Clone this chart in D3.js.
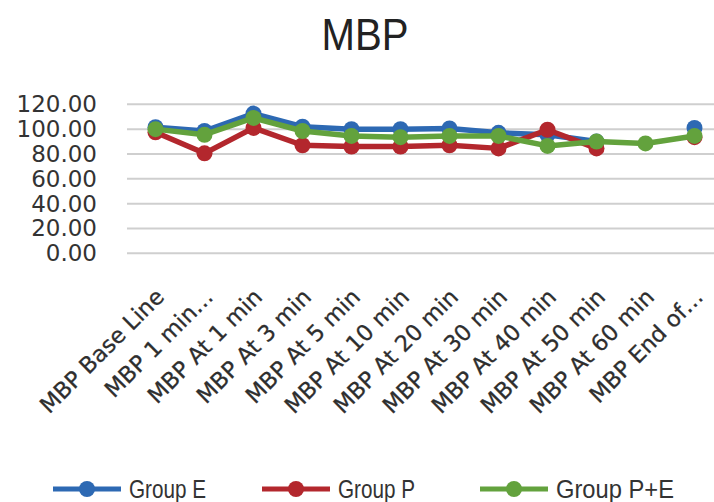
<!DOCTYPE html>
<html>
<head>
<meta charset="utf-8">
<script src="https://cdn.jsdelivr.net/npm/d3@7"></script>
<style>
  html, body { margin: 0; padding: 0; background: #ffffff; }
  svg { display: block; }
</style>
</head>
<body>
<svg id="chart" width="714" height="502"></svg>
<script>
// Time points on the x axis
const categories = [
  "MBP Base Line", "MBP 1 min…", "MBP At 1 min", "MBP At 3 min",
  "MBP At 5 min", "MBP At 10 min", "MBP At 20 min", "MBP At 30 min",
  "MBP At 40 min", "MBP At 50 min", "MBP At 60 min", "MBP End of…"
];

// Mean blood pressure per group (null = no reading)
const groupE  = [101.5, 98.5, 112.5, 102.0, 100.0, 100.0, 100.5, 97.0, 95.5, 90.0, null, 101.0];
const groupP  = [97.5, 80.5, 101.0, 87.0, 86.0, 86.0, 87.0, 84.5, 99.5, 84.5, null, 93.5];
const groupPE = [100.0, 95.5, 109.0, 98.5, 94.5, 93.5, 94.5, 94.5, 86.5, 90.0, 88.5, 94.5];

const yTicks = [0, 20, 40, 60, 80, 100, 120];

const seriesNames  = ["Group E", "Group P", "Group P+E"];
const seriesColors = ["#2d69b3", "#b3272d", "#63a23d"];
const seriesValues = [groupE, groupP, groupPE];

const svg = d3.select("#chart");

// Scales
const x = d3.scaleBand().domain(categories).range([131, 719]);
const xc = d => x(d) + x.bandwidth() / 2;
const y = d3.scaleLinear().domain([0, 120]).range([253.3, 104.3]);

// Title
svg.append("text")
  .attr("x", 365).attr("y", 50)
  .attr("text-anchor", "middle")
  .attr("font-family", "Liberation Sans, Arial, sans-serif")
  .attr("font-size", 44)
  .attr("textLength", 87)
  .attr("lengthAdjust", "spacingAndGlyphs")
  .attr("fill", "#222")
  .text("MBP");

// Horizontal gridlines
svg.append("g")
  .selectAll("line")
  .data(yTicks)
  .join("line")
  .attr("x1", 127).attr("x2", 714)
  .attr("y1", d => y(d)).attr("y2", d => y(d))
  .attr("stroke", "#cfcfcf")
  .attr("stroke-width", 2);

// Y axis labels
const yAxis = d3.axisLeft(y)
  .tickValues(yTicks)
  .tickFormat(d3.format(".2f"))
  .tickSize(0)
  .tickPadding(0);
svg.append("g")
  .attr("transform", "translate(97,0)")
  .call(yAxis)
  .call(g => g.select(".domain").remove())
  .call(g => g.selectAll("text")
    .attr("font-family", "DejaVu Sans, Verdana, sans-serif")
    .attr("font-size", 23)
    .attr("fill", "#333"));

// X axis labels, rotated
const xAxis = d3.axisBottom(x).tickSize(0).tickPadding(0);
svg.append("g")
  .attr("transform", "translate(0,253.3)")
  .call(xAxis)
  .call(g => g.select(".domain").remove())
  .call(g => g.selectAll("text")
    .attr("font-family", "DejaVu Sans, Verdana, sans-serif")
    .attr("font-size", 22.5)
    .attr("fill", "#2e2e2e")
    .attr("stroke", "#2e2e2e")
    .attr("stroke-width", 0.3)
    .attr("text-anchor", "end")
    .attr("dy", 0)
    .attr("transform", "translate(10,45) rotate(-45)"));

// Lines and markers, drawn in series order
const line = d3.line()
  .defined(d => d.v !== null)
  .x(d => xc(d.c))
  .y(d => y(d.v));

seriesValues.forEach((vals, i) => {
  const pts = categories.map((c, j) => ({ c, v: vals[j] }));
  const g = svg.append("g");
  g.append("path")
    .datum(pts)
    .attr("d", line)
    .attr("fill", "none")
    .attr("stroke", seriesColors[i])
    .attr("stroke-width", 5.5)
    .attr("stroke-linejoin", "round");
  g.selectAll("circle")
    .data(pts.filter(d => d.v !== null))
    .join("circle")
    .attr("cx", d => xc(d.c))
    .attr("cy", d => y(d.v))
    .attr("r", 8)
    .attr("fill", seriesColors[i]);
});

// Legend
const legendX = [53, 262, 480];
const legendTextLen = [77, 77, 118];
const legend = svg.append("g");
seriesNames.forEach((name, i) => {
  const lx = legendX[i];
  legend.append("line")
    .attr("x1", lx).attr("x2", lx + 68)
    .attr("y1", 489).attr("y2", 489)
    .attr("stroke", seriesColors[i])
    .attr("stroke-width", 5);
  legend.append("circle")
    .attr("cx", lx + 34).attr("cy", 489)
    .attr("r", 8)
    .attr("fill", seriesColors[i]);
  legend.append("text")
    .attr("x", lx + 76).attr("y", 498)
    .attr("font-family", "Liberation Sans, Arial, sans-serif")
    .attr("font-size", 25)
    .attr("textLength", legendTextLen[i])
    .attr("lengthAdjust", "spacingAndGlyphs")
    .attr("fill", "#333")
    .text(name);
});
</script>
</body>
</html>
